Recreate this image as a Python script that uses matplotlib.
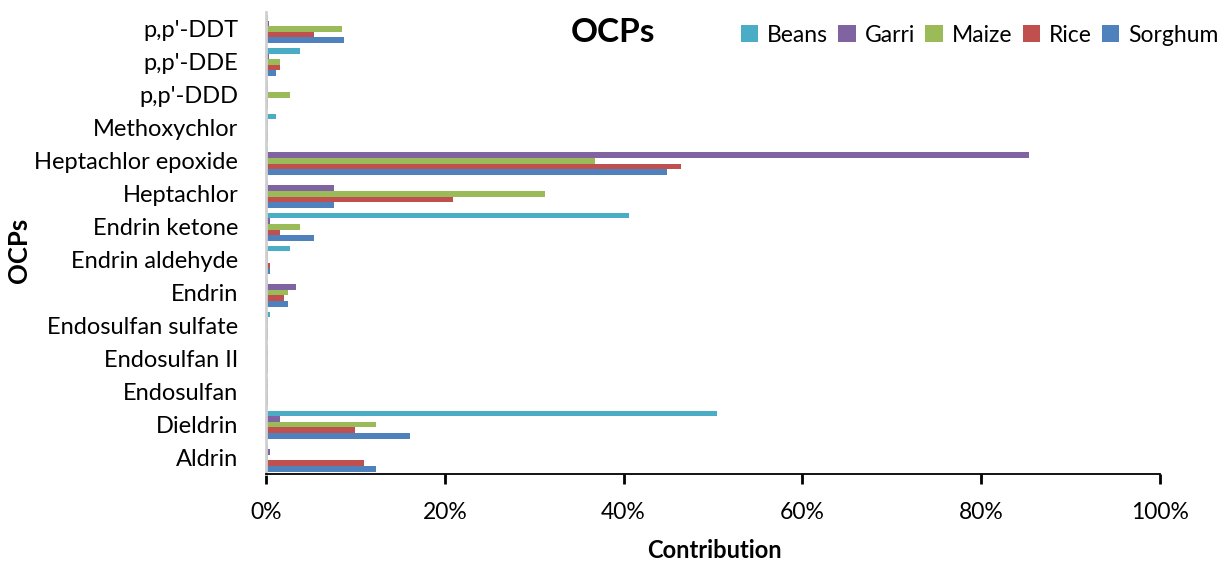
import matplotlib
matplotlib.use("Agg")
import matplotlib.pyplot as plt
import numpy as np
from matplotlib.ticker import PercentFormatter

compounds = ["Aldrin", "Dieldrin", "Endosulfan", "Endosulfan II", "Endosulfan sulfate",
             "Endrin", "Endrin aldehyde", "Endrin ketone", "Heptachlor",
             "Heptachlor epoxide", "Methoxychlor", "p,p'-DDD", "p,p'-DDE", "p,p'-DDT"]

beans   = [0.2, 50.5, 0.2, 0.2, 0.45, 0.2, 2.7, 40.6, 0.2, 0.2, 1.1, 0.2, 3.8, 0.2]
garri   = [0.45, 1.6, 0.2, 0.2, 0.2, 3.4, 0.2, 0.45, 7.6, 85.4, 0.2, 0.2, 0.3, 0.3]
maize   = [0.2, 12.3, 0.2, 0.2, 0.2, 2.5, 0.2, 3.8, 31.2, 36.8, 0.2, 2.7, 1.6, 8.5]
rice    = [11.0, 9.9, 0.2, 0.2, 0.2, 2.0, 0.45, 1.6, 20.9, 46.4, 0.2, 0.2, 1.6, 5.4]
sorghum = [12.3, 16.1, 0.2, 0.2, 0.2, 2.5, 0.45, 5.4, 7.6, 44.8, 0.2, 0.2, 1.1, 8.7]

series = [("Beans", beans, "#4BACC6"),
          ("Garri", garri, "#8064A2"),
          ("Maize", maize, "#9BBB59"),
          ("Rice", rice, "#C0504D"),
          ("Sorghum", sorghum, "#4F81BD")]

plt.rcParams["font.family"] = ["Lato", "DejaVu Sans"]

fig = plt.figure(figsize=(12.31, 5.62), dpi=100)
ax = fig.add_axes([266 / 1231, 1 - 474 / 562, (1160 - 266) / 1231, (474 - 12.5) / 562])

y = np.arange(len(compounds))
h = 0.17
# Beans sits at the top of each group, Sorghum at the bottom
offsets = [2 * h, h, 0, -h, -2 * h]
for (name, vals, col), off in zip(series, offsets):
    ax.barh(y + off, vals, height=h, color=col, label=name, linewidth=0)

ax.set_xlim(0, 100)
ax.set_ylim(-0.5, len(compounds) - 0.5)
ax.set_yticks(y)
ax.set_yticklabels(compounds, fontsize=17)
ax.set_xticks(np.arange(0, 101, 20))
ax.xaxis.set_major_formatter(PercentFormatter(decimals=0))
ax.tick_params(axis="x", labelsize=16.5, direction="out", length=7, width=2, pad=13)
ax.tick_params(axis="y", length=0, pad=20)

for s in ["top", "right"]:
    ax.spines[s].set_visible(False)
ax.spines["left"].set_color("#d0d0d0")
ax.spines["left"].set_linewidth(2)
ax.spines["bottom"].set_color("#000000")
ax.spines["bottom"].set_linewidth(1.3)

ax.set_xlabel("Contribution", fontsize=17, fontweight="bold", va="center")
ax.xaxis.set_label_coords((714 - 266) / (1160 - 266), -(550 - 474) / (474 - 12.5))
ax.set_ylabel("OCPs", fontsize=18.5, fontweight="bold", va="center")
ax.yaxis.set_label_coords(-(266 - 19) / (1160 - 266), (474 - 250) / (474 - 12.5))

fig.text(613 / 1231, 1 - 33 / 562, "OCPs", fontsize=24, fontweight="bold",
         ha="center", va="center")

handles, labels = ax.get_legend_handles_labels()
leg = fig.legend(handles, labels, ncol=5, loc="center right",
                 bbox_to_anchor=(1228 / 1231, 1 - 35 / 562), frameon=False,
                 fontsize=16.5, handlelength=0.75, handleheight=0.75,
                 handletextpad=0.4, columnspacing=0.45, borderaxespad=0)

fig.savefig("out.png", dpi=100)
